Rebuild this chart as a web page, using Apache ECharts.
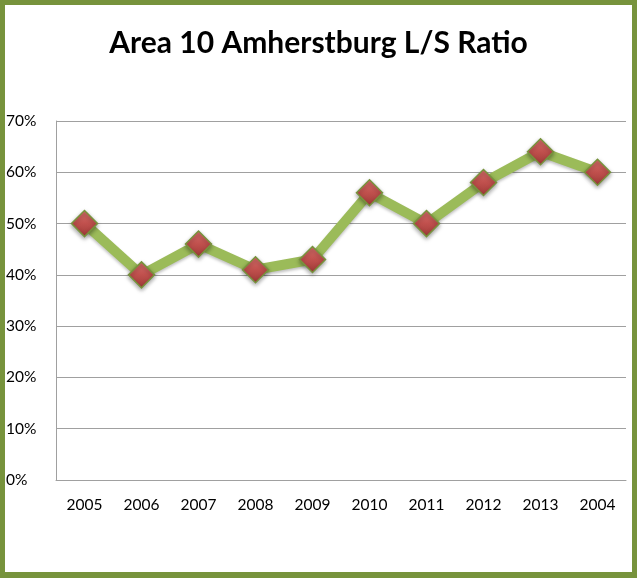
<!DOCTYPE html>
<html>
<head>
<meta charset="utf-8">
<script src="https://cdn.jsdelivr.net/npm/echarts@6/dist/echarts.min.js"></script>
<style>
html,body{margin:0;padding:0;background:#fff;}
#frame{position:absolute;left:0;top:0;width:637px;height:578px;box-sizing:border-box;border:5px solid #77933C;border-bottom-width:6px;background:#fff;}
#chart{position:absolute;left:0;top:0;width:637px;height:578px;}
</style>
</head>
<body>
<div id="frame"></div>
<div id="chart"></div>
<script>
const titleText = 'Area 10 Amherstburg L/S Ratio';
const categories = ['2005','2006','2007','2008','2009','2010','2011','2012','2013','2004'];
const ratioValues = [50, 40, 46, 41, 43, 56, 50, 58, 64, 60];
const yTicks = [0, 10, 20, 30, 40, 50, 60, 70];

const chart = echarts.init(document.getElementById('chart'), null, {renderer: 'canvas'});
chart.setOption({
  backgroundColor: 'transparent',
  animation: false,
  title: {
    text: titleText,
    left: 'center',
    top: 23,
    textStyle: {fontFamily: 'Lato', fontWeight: 'bold', fontSize: 30, color: '#000'}
  },
  grid: {left: 56, right: 11, top: 121, bottom: 98},
  xAxis: {
    type: 'category',
    data: categories,
    boundaryGap: true,
    axisLine: {show: true, lineStyle: {color: '#A0A0A0', width: 1}},
    axisTick: {show: false},
    axisLabel: {fontFamily: 'Lato', fontSize: 15.5, color: '#000', margin: 17}
  },
  yAxis: {
    type: 'value',
    min: yTicks[0],
    max: yTicks[yTicks.length - 1],
    interval: 10,
    axisLine: {show: true, lineStyle: {color: '#A0A0A0', width: 1}},
    axisTick: {show: false},
    splitLine: {show: true, lineStyle: {color: '#A0A0A0', width: 1}},
    axisLabel: {fontFamily: 'Lato', fontSize: 15.5, color: '#000', align: 'left', margin: 50,
      formatter: v => v + '%'}
  },
  series: [{
    type: 'line',
    data: ratioValues,
    symbol: 'diamond',
    symbolSize: 26,
    lineStyle: {color: '#9BBB59', width: 10, shadowColor: 'rgba(0,0,0,0.25)', shadowBlur: 3, shadowOffsetY: 2},
    itemStyle: {
      color: new echarts.graphic.LinearGradient(0, 0, 0, 1, [
        {offset: 0, color: '#D9716D'},
        {offset: 0.5, color: '#C0504D'},
        {offset: 1, color: '#9E3A37'}
      ]),
      borderColor: '#77933C',
      borderWidth: 1.5,
      shadowColor: 'rgba(0,0,0,0.35)', shadowBlur: 4, shadowOffsetY: 2
    },
    z: 3
  }]
});
</script>
</body>
</html>
